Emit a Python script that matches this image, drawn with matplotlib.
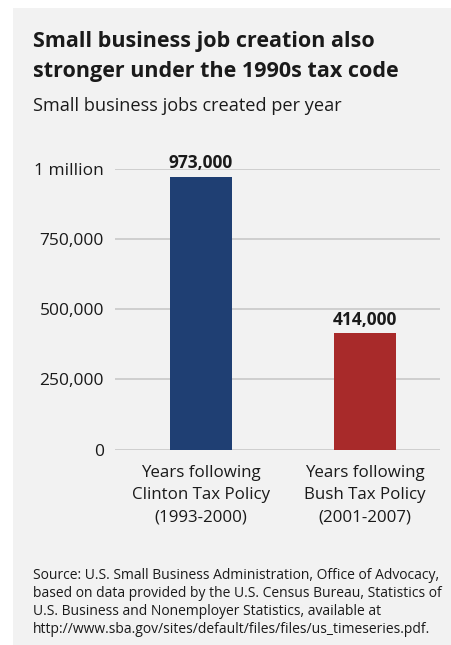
import matplotlib.pyplot as plt
from matplotlib.patches import Rectangle
from matplotlib.ticker import FixedLocator

categories = ["Years following\nClinton Tax Policy\n(1993-2000)",
              "Years following\nBush Tax Policy\n(2001-2007)"]
jobs = [973000, 414000]
value_labels = ["973,000", "414,000"]
bar_colors = ["#1f3f73", "#a82a2a"]
y_ticks = [0, 250000, 500000, 750000, 1000000]
y_tick_labels = ["0", "250,000", "500,000", "750,000", "1 million"]

plt.rcParams['font.family'] = ['Open Sans', 'DejaVu Sans']

W, H = 451, 645
fig = plt.figure(figsize=(W / 100, H / 100), dpi=100)
fig.patch.set_facecolor("white")

# grey panel behind everything
fig.patches.append(Rectangle((13 / W, 0), 1 - 13 / W, 1 - 8 / H,
                             transform=fig.transFigure, facecolor="#f2f2f2",
                             edgecolor="none", zorder=-5))

def px(x, y):
    return x / W, 1 - y / H

ink = "#1a1a1a"
fig.text(*px(33, 46.5), "Small business job creation also", fontsize=15.5,
         fontweight="bold", va="baseline", ha="left", color=ink)
fig.text(*px(33, 76.5), "stronger under the 1990s tax code", fontsize=15.5,
         fontweight="bold", va="baseline", ha="left", color=ink)
fig.text(*px(33, 111), "Small business jobs created per year", fontsize=13.1,
         va="baseline", ha="left", color=ink)

source = ("Source: U.S. Small Business Administration, Office of Advocacy,\n"
          "based on data provided by the U.S. Census Bureau, Statistics of\n"
          "U.S. Business and Nonemployer Statistics, available at\n"
          "http://www.sba.gov/sites/default/files/files/us_timeseries.pdf.")
fig.text(*px(33, 568), source, fontsize=10, va="top", ha="left",
         color=ink, linespacing=1.28)

ax = fig.add_axes([115 / W, 1 - 449.5 / H, 325 / W, 280.5 / H], zorder=2)
ax.set_facecolor("none")
ax.set_xlim(-0.524, 1.457)
ax.set_ylim(0, 1000000)

x = range(len(jobs))
ax.bar(x, jobs, width=0.378, color=bar_colors, zorder=2)
for xi, v, lab in zip(x, jobs, value_labels):
    ax.text(xi, v + 16000, lab, ha="center", va="bottom", fontsize=12.5,
            fontweight="bold", color=ink, clip_on=False)

ax.yaxis.set_major_locator(FixedLocator(y_ticks))
ax.set_yticklabels(y_tick_labels, fontsize=12.5, color=ink)
ax.set_xticks(list(x))
ax.set_xticklabels(categories, fontsize=12.2, color=ink, linespacing=1.55)
ax.tick_params(axis="y", length=0, pad=8)
ax.tick_params(axis="x", length=0, pad=11)
ax.grid(axis="y", color="#c8c8c8", linewidth=1.2, zorder=1)
ax.set_axisbelow(True)
for s in ax.spines.values():
    s.set_visible(False)

fig.savefig("out.png", dpi=100, facecolor=fig.get_facecolor())
